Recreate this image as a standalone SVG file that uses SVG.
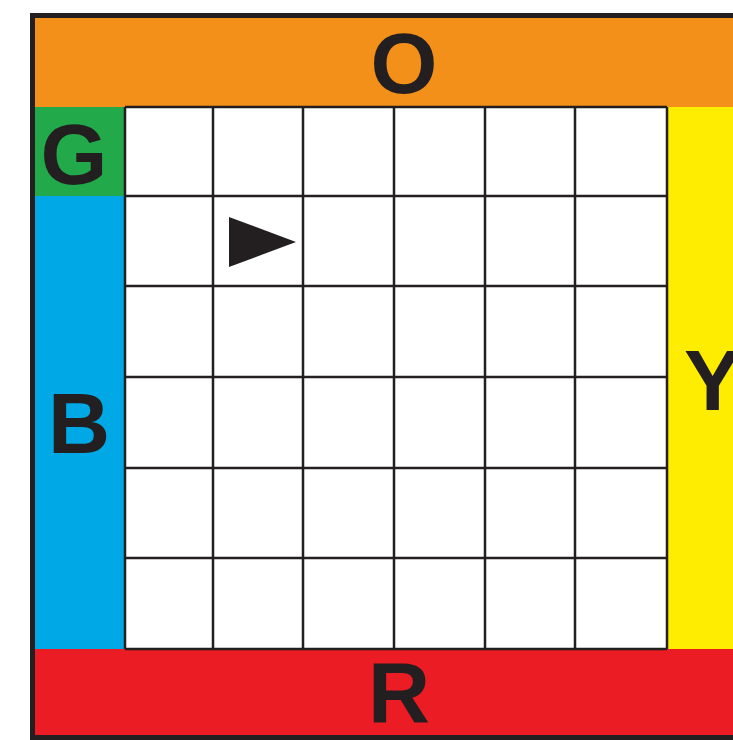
<svg xmlns="http://www.w3.org/2000/svg" width="733" height="740" viewBox="0 0 733 740">
<style>
.lbl{font-family:"Liberation Sans",Arial,sans-serif;font-weight:bold;font-size:86px;fill:#231F20}
.grid{stroke:#231F20;stroke-width:2.5;fill:none}
</style>
<rect x="0" y="0" width="733" height="740" fill="#ffffff"/>
<g id="orange"><rect x="35" y="18" width="698" height="89" fill="#F39019"/><text class="lbl" x="404" y="93" text-anchor="middle">O</text></g>
<g id="green"><rect x="35" y="107" width="90" height="89" fill="#22AA4A"/><text class="lbl" x="74" y="184" text-anchor="middle">G</text></g>
<g id="blue"><rect x="35" y="196" width="90" height="453" fill="#00A8E6"/><text class="lbl" x="79" y="453" text-anchor="middle">B</text></g>
<g id="yellow"><rect x="667" y="107" width="66" height="542" fill="#FFED00"/><text class="lbl" x="684" y="410">Y</text></g>
<g id="red"><rect x="35" y="649" width="698" height="88" fill="#EB1C24"/><text class="lbl" x="399" y="722" text-anchor="middle">R</text></g>
<g id="grid" class="grid">
<path d="M125 107V649M213 107V649M303 107V649M394 107V649M485 107V649M575 107V649M667 107V649"/>
<path d="M125 107H667M125 196H667M125 286H667M125 377H667M125 468H667M125 558H667M125 649H667"/>
</g>
<g id="frame"><path d="M733 15.5H32.5V737.5H733" fill="none" stroke="#231F20" stroke-width="5"/></g>
<g id="arrow"><polygon points="229,217 296,242 229,267" fill="#231F20"/></g>
</svg>
